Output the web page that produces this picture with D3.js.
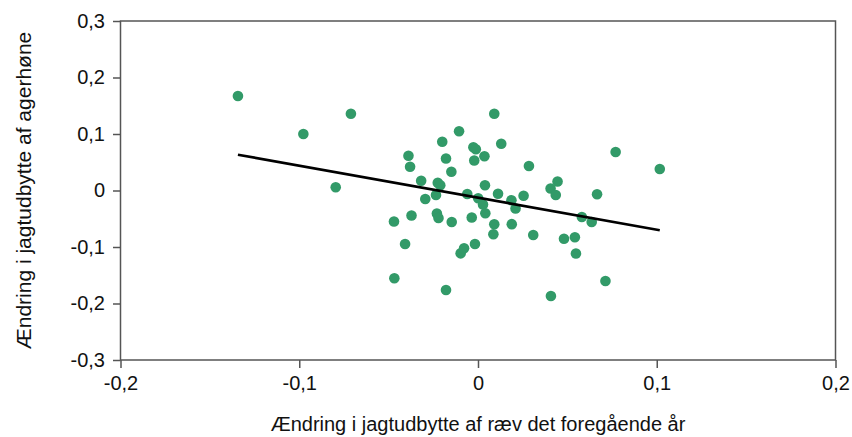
<!DOCTYPE html>
<html>
<head>
<meta charset="utf-8">
<script src="https://cdn.jsdelivr.net/npm/d3@7"></script>
<style>
  body { margin: 0; background: #fff; }
  text { font-family: "Liberation Sans", Arial, sans-serif; fill: #111; }
  .axis path { display: none; }
  .axis line { stroke: #555; stroke-width: 1.5; }
  .axis text { font-size: 20px; fill: #111; }
</style>
</head>
<body>
<div id="chart"></div>
<script>
// change in fox bag previous year (x) vs change in partridge bag (y)
var foxChange = [
  -0.1343, -0.0977, -0.0711, -0.0796, -0.0470, -0.0468, -0.0408, -0.0389, -0.0380, -0.0372,
  -0.0318, -0.0295, -0.0235, -0.0225, -0.0211, -0.0230, -0.0221, -0.0200, -0.0179, -0.0179,
  -0.0149, -0.0147, -0.0106, -0.0097, -0.0078, -0.0060, -0.0035, -0.0026, -0.0012, -0.0021,
  -0.0017, 0.0001, 0.0028, 0.0036, 0.0039, 0.0041, 0.0091, 0.0091, 0.0086, 0.0112,
  0.0130, 0.0187, 0.0210, 0.0189, 0.0255, 0.0285, 0.0309, 0.0406, 0.0445, 0.0435,
  0.0408, 0.0481, 0.0542, 0.0548, 0.0581, 0.0636, 0.0666, 0.0713, 0.0770, 0.1017
];
var partridgeChange = [
  0.1673, 0.1000, 0.1359, 0.0057, -0.0549, -0.1552, -0.0947, 0.0616, 0.0421, -0.0442,
  0.0173, -0.0150, -0.0080, 0.0138, 0.0092, -0.0407, -0.0487, 0.0864, 0.0566, -0.1761,
  0.0333, -0.0558, 0.1048, -0.1112, -0.1023, -0.0062, -0.0478, 0.0765, 0.0729, 0.0531,
  -0.0947, -0.0138, -0.0248, 0.0605, 0.0092, -0.0402, 0.1359, -0.0598, -0.0775, -0.0057,
  0.0828, -0.0173, -0.0319, -0.0596, -0.0092, 0.0434, -0.0788, 0.0035, 0.0159, -0.0080,
  -0.1867, -0.0855, -0.0828, -0.1115, -0.0469, -0.0558, -0.0067, -0.1602, 0.0681, 0.0381
];

// regression line end points
var fitX = [-0.1343, 0.1017];
var fitY = [0.0634, -0.0704];

var xTicks = [-0.2, -0.1, 0, 0.1, 0.2];
var xTickLabels = ["-0,2", "-0,1", "0", "0,1", "0,2"];
var yTicks = [-0.3, -0.2, -0.1, 0, 0.1, 0.2, 0.3];
var yTickLabels = ["-0,3", "-0,2", "-0,1", "0", "0,1", "0,2", "0,3"];

var xTitle = "Ændring i jagtudbytte af ræv det foregående år";
var yTitle = "Ændring i jagtudbytte af agerhøne";

var svgWidth = 852;
var svgHeight = 437;

var margin = { top: 21, right: 16.5, bottom: 77, left: 120.5 };
var width = svgWidth - margin.left - margin.right;
var height = svgHeight - margin.top - margin.bottom;

var svg = d3
  .select("#chart")
  .append("svg")
  .attr("width", svgWidth)
  .attr("height", svgHeight);

var chartGroup = svg
  .append("g")
  .attr("transform", `translate(${margin.left}, ${margin.top})`);

var xScale = d3.scaleLinear().domain([-0.2, 0.2]).range([0, width]);
var yScale = d3.scaleLinear().domain([-0.3, 0.3]).range([height, 0]);

var bottomAxis = d3
  .axisBottom(xScale)
  .tickValues(xTicks)
  .tickFormat((d, i) => xTickLabels[i])
  .tickSize(8)
  .tickSizeOuter(0)
  .tickPadding(8);

var leftAxis = d3
  .axisLeft(yScale)
  .tickValues(yTicks)
  .tickFormat((d, i) => yTickLabels[i])
  .tickSize(7.5)
  .tickSizeOuter(0)
  .tickPadding(8);

chartGroup
  .append("g")
  .attr("class", "axis")
  .attr("transform", `translate(0, ${height})`)
  .call(bottomAxis);

chartGroup.append("g").attr("class", "axis").call(leftAxis);

// frame
chartGroup
  .append("rect")
  .attr("x", 0)
  .attr("y", 0)
  .attr("width", width)
  .attr("height", height)
  .attr("fill", "none")
  .attr("stroke", "#555")
  .attr("stroke-width", 1.5);

var points = foxChange.map((x, i) => ({ x: x, y: partridgeChange[i] }));

chartGroup
  .append("g")
  .selectAll("circle")
  .data(points)
  .enter()
  .append("circle")
  .attr("cx", (d) => xScale(d.x))
  .attr("cy", (d) => yScale(d.y))
  .attr("r", 5.3)
  .attr("fill", "#329a68");

var line = d3
  .line()
  .x((d) => xScale(d[0]))
  .y((d) => yScale(d[1]));

chartGroup
  .append("path")
  .datum(fitX.map((x, i) => [x, fitY[i]]))
  .attr("d", line)
  .attr("fill", "none")
  .attr("stroke", "#000")
  .attr("stroke-width", 2.6);

// axis titles
svg
  .append("text")
  .attr("x", margin.left + width / 2)
  .attr("y", 431)
  .attr("text-anchor", "middle")
  .style("font-size", "20px")
  .text(xTitle);

svg
  .append("text")
  .attr("transform", `translate(31, ${margin.top + height / 2}) rotate(-90)`)
  .attr("text-anchor", "middle")
  .style("font-size", "21px")
  .text(yTitle);
</script>
</body>
</html>
